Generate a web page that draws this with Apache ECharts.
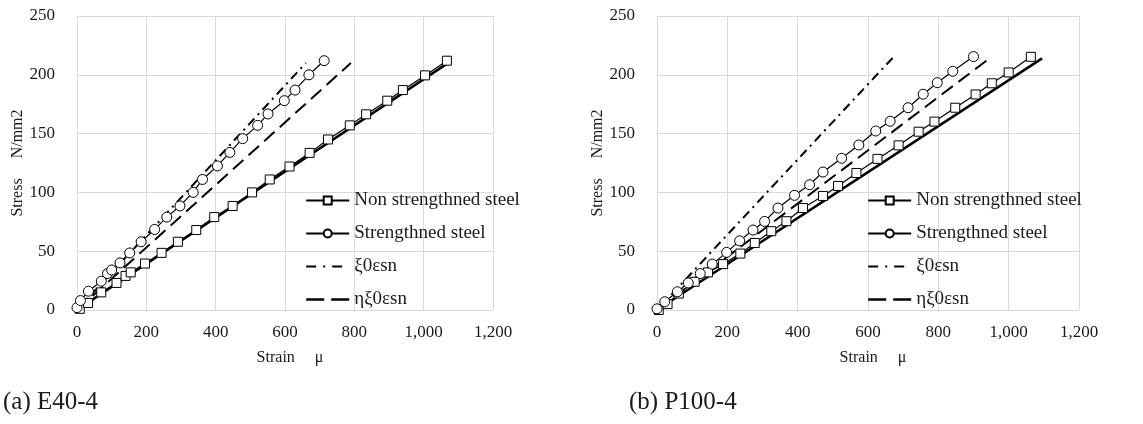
<!DOCTYPE html>
<html>
<head>
<meta charset="utf-8">
<script src="https://cdn.jsdelivr.net/npm/echarts@6/dist/echarts.min.js"></script>
<style>
html,body{margin:0;padding:0;background:#fff;}
#chart{width:1143px;height:424px;}
</style>
</head>
<body>
<div id="chart"></div>
<script>
// ---------- Data ----------
const xTickLabels = ['0', '200', '400', '600', '800', '1,000', '1,200'];
const yTicks = [0, 50, 100, 150, 200, 250];

const seriesNames = ['Non strengthned steel', 'Strengthned steel', 'ξ0εsn', 'ηξ0εsn'];
const captions = ['(a) E40-4', '(b) P100-4'];

// (a) E40-4
const aNonX = [8, 32, 70, 114, 140, 155, 196, 244, 291, 344, 396, 449, 505, 556, 613, 671, 724, 787, 834, 895, 940, 1004, 1067];
const aNonY = [1, 6, 15, 23, 29, 32, 39.5, 48.6, 58, 68, 79, 88.5, 100, 111, 122, 133.6, 145, 157, 166.4, 178, 187, 199.5, 212];
const aStrX = [0, 10, 33, 70, 88, 100, 124, 152, 185, 224, 259, 297, 335, 362, 405, 441, 478, 521, 551, 598, 629, 669, 713];
const aStrY = [2, 8, 16, 24.5, 31, 34, 40, 48.5, 58, 68.5, 79, 88.5, 100, 111, 122.5, 134, 145.7, 157, 166.7, 178, 187, 200, 212];
const aBaseX = [0, 1075];
const aBaseY = [0, 211];
const aXiX = [0, 660];
const aXiY = [0, 210];
const aEtaX = [0, 790];
const aEtaY = [0, 210];

// (b) P100-4
const bNonX = [5, 30, 62, 107, 145, 188, 237, 278, 325, 368, 415, 472, 515, 567, 627, 687, 744, 789, 848, 906, 952, 1000, 1063];
const bNonY = [0, 5, 14, 24, 32, 39, 48, 57, 67, 75.5, 86.7, 97, 105.5, 116.5, 128.5, 140, 151.6, 160.2, 172, 183.3, 192.8, 202, 215.3];
const bStrX = [0, 22, 58, 89, 123, 157, 198, 235, 273, 306, 344, 391, 434, 472, 525, 574, 622, 663, 714, 757, 797, 841, 900];
const bStrY = [1, 7, 15.5, 23, 31, 39, 49, 58.8, 68, 75.3, 86.7, 97.5, 106.5, 117.3, 129, 140.3, 152.2, 160.5, 172, 183.5, 193.3, 203, 215.5];
const bBaseX = [0, 1095];
const bBaseY = [0, 214];
const bXiX = [0, 672];
const bXiY = [0, 215];
const bEtaX = [0, 950];
const bEtaY = [0, 215];

// ---------- Build ----------
const FONT = 'Liberation Serif';
const TXT = '#1a1a1a';
const GRIDC = '#d9d9d9';
const pairs = (xs, ys) => xs.map((x, i) => [x, ys[i]]);

function makeAxes(idx) {
  return {
    x: {
      type: 'value', gridIndex: idx, min: 0, max: 1200, interval: 200,
      axisLine: { show: false }, axisTick: { show: false },
      splitLine: { show: true, lineStyle: { color: GRIDC, width: 1 } },
      axisLabel: { fontFamily: FONT, fontSize: 17, color: TXT, margin: 14,
        formatter: v => xTickLabels[Math.round(v / 200)] },
      name: 'Strain     μ', nameLocation: 'middle', nameGap: 40,
      nameTextStyle: { fontFamily: FONT, fontSize: 16, color: TXT, padding: [0, 0, 0, 10] }
    },
    y: {
      type: 'value', gridIndex: idx, min: yTicks[0], max: yTicks[yTicks.length - 1], interval: 50,
      axisLine: { show: false }, axisTick: { show: false },
      splitLine: { show: true, lineStyle: { color: GRIDC, width: 1 } },
      axisLabel: { fontFamily: FONT, fontSize: 17, color: TXT, margin: 22 },
      name: 'Stress     N/mm2', nameLocation: 'middle', nameGap: 50, nameRotate: 90,
      nameTextStyle: { fontFamily: FONT, fontSize: 16, color: TXT }
    }
  };
}

function makeSeries(idx, d) {
  return [
    { name: 'base', type: 'line', xAxisIndex: idx, yAxisIndex: idx, data: pairs(d.baseX, d.baseY),
      showSymbol: false, symbol: 'none', lineStyle: { color: '#000', width: 2.6 }, z: 2, silent: true },
    { name: seriesNames[0], type: 'line', xAxisIndex: idx, yAxisIndex: idx, data: pairs(d.nonX, d.nonY),
      symbol: 'rect', symbolSize: 9, showAllSymbol: true,
      itemStyle: { color: '#fff', borderColor: '#000', borderWidth: 1 },
      lineStyle: { color: '#000', width: 1.2 }, z: 4 },
    { name: seriesNames[1], type: 'line', xAxisIndex: idx, yAxisIndex: idx, data: pairs(d.strX, d.strY),
      symbol: 'circle', symbolSize: 10, showAllSymbol: true,
      itemStyle: { color: '#fff', borderColor: '#000', borderWidth: 1 },
      lineStyle: { color: '#000', width: 1.2 }, z: 4 },
    { name: seriesNames[2], type: 'line', xAxisIndex: idx, yAxisIndex: idx, data: pairs(d.xiX, d.xiY),
      symbol: 'none', itemStyle: { color: '#000' },
      lineStyle: { color: '#000', width: 2, type: [9, 5, 2, 5] }, z: 3 },
    { name: seriesNames[3], type: 'line', xAxisIndex: idx, yAxisIndex: idx, data: pairs(d.etaX, d.etaY),
      symbol: 'none', itemStyle: { color: '#000' },
      lineStyle: { color: '#000', width: 2, type: [14, 7] }, z: 3 }
  ];
}

const A = makeAxes(0), B = makeAxes(1);

const legendData = [
  { name: seriesNames[0] },
  { name: seriesNames[1] },
  { name: seriesNames[2], itemStyle: { opacity: 0 }, lineStyle: { type: [10, 7, 2, 7], width: 2 } },
  { name: seriesNames[3], itemStyle: { opacity: 0 }, lineStyle: { type: [18, 7], width: 2.4 } }
];

const legendCommon = {
  orient: 'vertical', itemWidth: 43, itemHeight: 10, itemGap: 14,
  data: legendData, selectedMode: false,
  textStyle: { fontFamily: FONT, fontSize: 19, color: TXT }
};

const option = {
  animation: false,
  backgroundColor: '#fff',
  grid: [
    { left: 77, right: 650, top: 16, bottom: 114 },
    { left: 657, right: 64, top: 16, bottom: 114 }
  ],
  xAxis: [A.x, B.x],
  yAxis: [A.y, B.y],
  legend: [
    Object.assign({ left: 300, top: 186 }, legendCommon),
    Object.assign({ left: 862, top: 186 }, legendCommon)
  ],
  graphic: [
    { type: 'text', left: 3, top: 390, style: { text: captions[0], font: '25px "Liberation Serif"', fill: TXT } },
    { type: 'text', left: 629, top: 390, style: { text: captions[1], font: '25px "Liberation Serif"', fill: TXT } }
  ],
  series: [].concat(
    makeSeries(0, { baseX: aBaseX, baseY: aBaseY, nonX: aNonX, nonY: aNonY, strX: aStrX, strY: aStrY,
                    xiX: aXiX, xiY: aXiY, etaX: aEtaX, etaY: aEtaY }),
    makeSeries(1, { baseX: bBaseX, baseY: bBaseY, nonX: bNonX, nonY: bNonY, strX: bStrX, strY: bStrY,
                    xiX: bXiX, xiY: bXiY, etaX: bEtaX, etaY: bEtaY })
  )
};

const chart = echarts.init(document.getElementById('chart'), null, { renderer: 'canvas' });
chart.setOption(option);
</script>
</body>
</html>
